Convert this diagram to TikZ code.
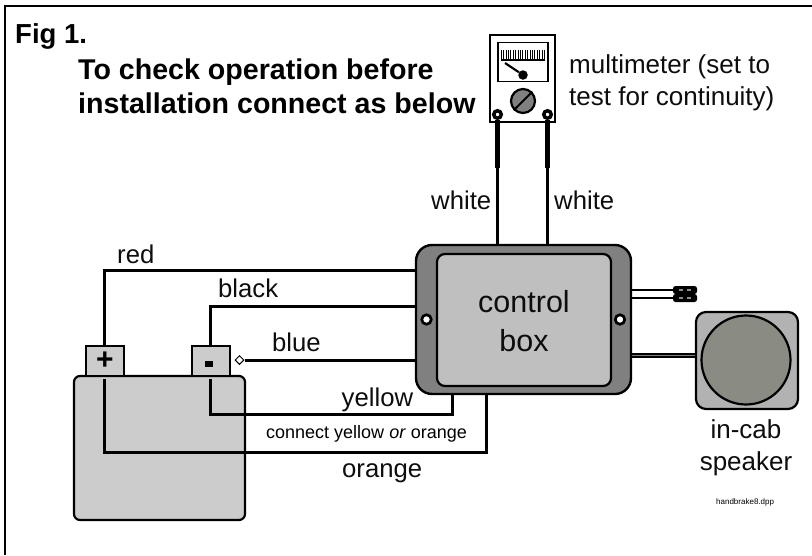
\documentclass[tikz,border=0pt]{standalone}
\usepackage{fontspec}
\usetikzlibrary{shapes.geometric}
\setmainfont{Liberation Sans}
\tikzset{
  wire/.style={draw=black,line width=3pt,line cap=butt,line join=miter},
  lab/.style={font=\fontsize{25.7}{30}\selectfont,anchor=base west,inner sep=0pt,text=black!95},
  labin/.style={font=\fontsize{26}{31}\selectfont,anchor=base,inner sep=0pt,text=black!95},
  lablg/.style={font=\fontsize{26}{31}\selectfont,anchor=base west,inner sep=0pt,text=black!95},
  hd/.style={font=\fontsize{28.6}{33}\selectfont\bfseries,anchor=base west,inner sep=0pt},
  sml/.style={font=\fontsize{18}{22}\selectfont,anchor=base west,inner sep=0pt},
  box/.style={draw=black,line width=2.2pt,minimum width=#1,inner sep=0pt},
  term/.style={circle,draw=black,line width=3.5pt,fill=white,minimum size=7.5pt,inner sep=0pt},
  hole/.style={circle,draw=black,line width=2.7pt,fill=white,minimum size=9.5pt,inner sep=0pt},
}
\definecolor{cone}{RGB}{138,139,131}
\begin{document}
\begin{tikzpicture}[x=1pt,y=-1pt]
\useasboundingbox (0,0) rectangle (812,555);
% frame
\coordinate (frameBL) at (5,555);
\coordinate (frameTL) at (5,5.5);
\coordinate (frameTR) at (812,5.5);
\draw[line width=2pt] (frameBL) -- (frameTL) -- (frameTR);

% battery
\node[box=171pt,minimum height=144pt,fill=black!20,rounded corners=6pt] (batt) at (159.5,448) {};
\node[box=38pt,minimum height=30pt,fill=black!20,line width=1.8pt] (plus) at (105,361) {};
\node[box=38pt,minimum height=30pt,fill=black!20,line width=1.8pt] (minus) at (211,361) {};
\node[font=\fontsize{30}{30}\selectfont\bfseries,inner sep=0pt] (plussign) at (105,361) {+};
\fill (205,360.7) rectangle (213,366.5);

% meter
\node[box=65pt,minimum height=87pt,fill=white,line width=1.6pt] (meter) at (522.5,78.5) {};
\node[box=50pt,minimum height=39pt,fill=white,line width=1.6pt] (dial) at (523,62) {};
\foreach \i in {0,...,18} \draw[line width=.9pt] (501.2+\i*2.4,50) -- (501.2+\i*2.4,59);
\draw[line width=1.4pt] (501,60) -- (545,60);
\node[circle,fill=black,minimum size=9.5pt,inner sep=0pt] (pivot) at (523,75) {};
\coordinate (needle) at (505,63);
\draw[line width=2.2pt] (needle) -- (pivot);
\node[circle,draw=black,line width=2.2pt,fill=black!50,minimum size=24pt,inner sep=0pt] (knob) at (523,101) {};
\draw[line width=1.8pt] (knob.south west) -- (knob.north east);

% meter leads
\node[term] (tl) at (497.5,114.5) {};
\node[term] (tr) at (547.5,114.5) {};
\coordinate (tlj) at (497.5,168);
\coordinate (trj) at (547.5,168);
\coordinate (cbl) at (497.5,245);
\coordinate (cbr) at (547.5,245);
\draw[line width=2.6pt] (tlj) -- (cbl);
\draw[line width=2.6pt] (trj) -- (cbr);
\draw[line width=5pt] (tl.south) -- (tlj);
\draw[line width=5pt] (tr.south) -- (trj);

% battery wires
\coordinate (cbred) at (420,270.5);
\coordinate (cbblack) at (420,306.5);
\coordinate (cbblue) at (420,360);
\coordinate (cbyel) at (452.8,390);
\coordinate (cbora) at (486.5,390);
\coordinate (yelstart) at (210.5,379);
\coordinate (orastart) at (104.5,379);
\coordinate (yelturn) at (210.5,414);
\coordinate (yelturnb) at (452.8,414);
\coordinate (oraturn) at (104.5,452);
\coordinate (oraturnb) at (486.5,452);
\coordinate (redturn) at (104.5,270.5);
\coordinate (blackturn) at (210.5,306.5);
\draw[wire] (plus.north -| orastart) -- (redturn) -- (cbred);
\draw[wire] (minus.north -| yelstart) -- (blackturn) -- (cbblack);
\draw[wire] (yelstart) -- (yelturn) -- (yelturnb) -- (cbyel);
\draw[wire] (orastart) -- (oraturn) -- (oraturnb) -- (cbora);
\node[diamond,draw=black,line width=1pt,fill=white,minimum size=9pt,inner sep=0pt] (dia) at (239.5,360) {};
\draw[wire] (dia.east) -- (cbblue);

% right side wires
\coordinate (cbc) at (628,290);
\coordinate (cbd) at (628,298);
\coordinate (conn1) at (674,290);
\coordinate (conn2) at (674,298);
\draw[line width=2.6pt] (cbc) -- (conn1);
\draw[line width=2.6pt] (cbd) -- (conn2);
\foreach \y/\n in {290/ca,298/cb}{
  \node[rounded corners=2.5pt,fill=black,minimum width=24pt,minimum height=8pt,inner sep=0pt] (\n) at (685,\y) {};
  \fill[black!45] (679,\y-1.2) rectangle (683,\y+1.2);
  \fill[black!45] (687,\y-1.2) rectangle (691,\y+1.2);
}

% speaker
\node[box=102pt,minimum height=97pt,fill=black!30,rounded corners=10pt] (spk) at (747,360.5) {};
\node[circle,draw=black,line width=2.2pt,fill=cone,minimum size=89pt,inner sep=0pt] (cn) at (746,360) {};
\coordinate (cbs) at (628,355);
\draw[line width=5pt] (cbs) -- (cbs -| spk.west);
\draw[line width=1pt,black!50] (cbs) -- (cbs -| spk.west);

% control box
\node[box=215pt,minimum height=149pt,fill=black!50,rounded corners=16pt,line width=2.4pt] (cbox) at (523.5,319.5) {};
\node[box=174pt,minimum height=132pt,fill=black!25,rounded corners=8pt] (cin) at (524,320) {};
\node[hole] (h1) at (426.5,319.5) {};
\node[hole] (h2) at (620,319.5) {};
\node[font=\fontsize{30.5}{39}\selectfont,align=center,inner sep=0pt,text=black!95] (cbt) at (524,321.5) {control\\box};

% texts
\node[font=\fontsize{27.5}{32}\selectfont\bfseries,anchor=base west,inner sep=0pt] (t1) at (15,43) {Fig 1.};
\node[hd] (t2) at (78,79) {To check operation before};
\node[hd] (t3) at (78,113.5) {installation connect as below};
\node[lablg] (t4) at (569,73) {multimeter (set to};
\node[lablg] (t5) at (569,105.5) {test for continuity)};
\node[lab] (t6) at (431,209) {white};
\node[lab] (t7) at (554,209) {white};
\node[lab] (t8) at (117,263) {red};
\node[lab] (t9) at (218,297) {black};
\node[lab] (t10) at (272,351) {blue};
\node[lab] (t11) at (341.5,406) {yellow};
\node[sml] (t12) at (266,438.5) {connect yellow \textit{or} orange};
\node[lab] (t13) at (342,477) {orange};
\node[labin] (t14) at (746,438) {in-cab};
\node[labin] (t15) at (746,470) {speaker};
\node[font=\fontsize{8}{10}\selectfont,anchor=base west,inner sep=0pt] (t16) at (716,504) {handbrake8.dpp};
\end{tikzpicture}
\end{document}
